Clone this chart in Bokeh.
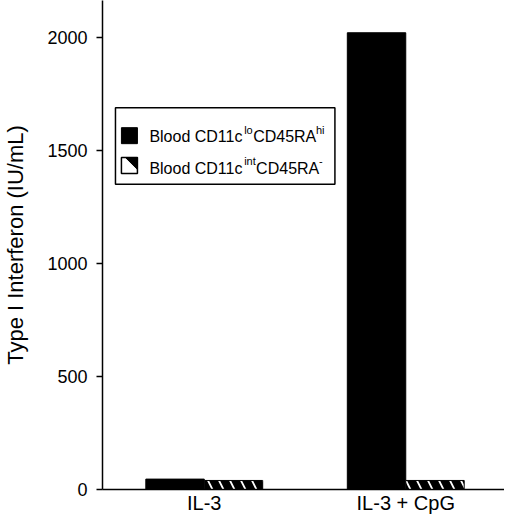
from bokeh.plotting import figure
from bokeh.models import Range1d, FixedTicker, BoxAnnotation
from bokeh.core.properties import value
from bokeh.embed import file_html
from bokeh.resources import INLINE

# Data
groups = ["IL-3", "IL-3 + CpG"]
group_x = [1, 3]
lo_hi = [46, 2020]      # Blood CD11c lo CD45RA hi
int_neg = [40, 40]      # Blood CD11c int CD45RA -
y_ticks = [0, 500, 1000, 1500, 2000]

FONT = "Liberation Sans"

# frame geometry (pixels) used to place the hand-made legend
LEFT = 101
BOTTOM = 492
X0 = -0.01
X1 = X0 + 403 / 101
Y1 = 2000 * BOTTOM / 455


def dx(px):
    return X0 + (px - LEFT) / 101


def dy(py):
    return (BOTTOM - py) * Y1 / BOTTOM


p = figure(width=504, height=516, output_backend="svg", toolbar_location=None,
           x_range=Range1d(X0, X1), y_range=Range1d(0, Y1),
           min_border_left=LEFT, min_border_right=0, min_border_top=0,
           min_border_bottom=24)
p.outline_line_color = None
p.grid.visible = False
p.background_fill_color = "white"

bw = 0.58
p.vbar(x=[g - bw / 2 for g in group_x], top=lo_hi, width=bw, bottom=0,
       fill_color="black", line_color="black")
p.vbar(x=[g + bw / 2 for g in group_x], top=int_neg, width=bw, bottom=0,
       fill_color="white", line_color="black", hatch_pattern="\\",
       hatch_color="black", hatch_weight=8, hatch_scale=22)

# axes
p.yaxis.ticker = FixedTicker(ticks=y_ticks)
p.yaxis.minor_tick_line_color = None
p.yaxis.major_tick_in = 0
p.yaxis.major_tick_out = 6
p.yaxis.major_label_standoff = 9
p.yaxis.major_label_text_font = FONT
p.yaxis.major_label_text_font_size = "18px"
p.yaxis.major_label_text_color = "black"
p.yaxis.axis_label = "Type I Interferon (IU/mL)"
p.yaxis.axis_label_text_font = FONT
p.yaxis.axis_label_text_font_size = "22px"
p.yaxis.axis_label_text_font_style = "normal"
p.yaxis.axis_label_text_color = "black"
p.yaxis.axis_label_standoff = 16

p.xaxis.ticker = FixedTicker(ticks=group_x)
p.xaxis.major_label_overrides = {group_x[i]: groups[i] for i in range(len(groups))}
p.xaxis.minor_tick_line_color = None
p.xaxis.major_tick_in = 0
p.xaxis.major_tick_out = 0
p.xaxis.major_label_standoff = 2
p.xaxis.major_label_text_font = FONT
p.xaxis.major_label_text_font_size = "20px"
p.xaxis.major_label_text_color = "black"

for ax in (p.xaxis, p.yaxis):
    ax.axis_line_color = "black"
    ax.axis_line_width = 1.5
    ax.major_tick_line_color = "black"
    ax.major_tick_line_width = 1.5

# legend (drawn by hand to get the superscripts)
p.add_layout(BoxAnnotation(left=dx(114), right=dx(334), top=dy(108), bottom=dy(185),
                           fill_color="white", fill_alpha=1, line_color="black",
                           line_alpha=1, line_width=1.5, level="underlay"))
p.scatter(x=[dx(128)], y=[dy(136)], marker="square", size=16,
          fill_color="black", line_color="black")
p.scatter(x=[dx(128)], y=[dy(166)], marker="square", size=16,
          fill_color="white", line_color="black", line_width=1.5)
p.patch(x=[dx(124), dx(136), dx(136)], y=[dy(158), dy(158), dy(170)],
        fill_color="black", line_color="black")

main_size = "16px"
sup_size = "11px"
rows = [
    (dy(137), [("Blood CD11c", 148, main_size, 0), ("lo", 243, sup_size, -7),
               ("CD45RA", 252, main_size, 0), ("hi", 315, sup_size, -7)]),
    (dy(169), [("Blood CD11c", 148, main_size, 0), ("int", 243, sup_size, -7),
               ("CD45RA", 255, main_size, 0), ("-", 318, sup_size, -7)]),
]
for ypos, parts in rows:
    for txt, px, size, off in parts:
        p.text(x=[dx(px)], y=[ypos], text=[txt], text_font=value(FONT),
               text_font_size=size, text_baseline="middle", text_align="left",
               y_offset=off, text_color="black")

open("out.html", "w").write(file_html(p, INLINE))
